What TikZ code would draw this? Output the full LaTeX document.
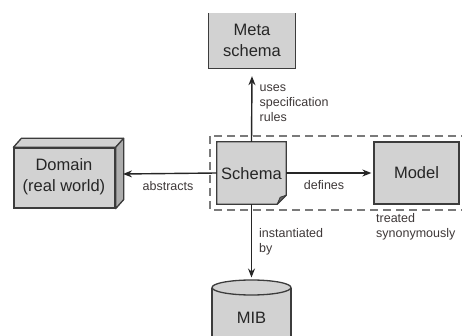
\documentclass[tikz,border=0pt]{standalone}
\usepackage{fontspec}
\setmainfont{Liberation Sans}
\usetikzlibrary{arrows.meta}
\definecolor{boxfill}{HTML}{D2D2D2}
\definecolor{sidefill}{HTML}{ADADAD}
\definecolor{edge}{HTML}{3C3C3C}
\definecolor{labeltext}{HTML}{3E3838}
\definecolor{dashgray}{HTML}{7A7A7A}
\tikzset{
  boxtext/.style={font=\fontsize{16.5}{20.5}\selectfont, text=black!85, align=center, inner sep=0pt},
  plainbox/.style={boxtext, fill=boxfill, draw=edge, line width=1.3pt},
  lbl/.style={font=\fontsize{12.5}{15}\selectfont, text=labeltext, align=left, inner sep=0pt},
  arr/.style={draw=black!85, line width=1.4pt, -{Stealth[length=9pt,width=7pt]}},
  grouping/.style={draw=dashgray, line width=1.3pt, dash pattern=on 8pt off 5pt},
}
\begin{document}
\begin{tikzpicture}[x=1pt, y=-1pt]
\useasboundingbox (0,0) rectangle (462,336);
\clip (0,0) rectangle (462,336);

% group of schema and model
\draw[grouping] (210,136) rectangle (480,210);

% meta schema: open at the top
\node[boxtext, fill=boxfill, minimum width=86pt, minimum height=55pt] (meta) at (252,40.5) {Meta\\schema};
\draw[edge, line width=1.3pt] (meta.north west) -- (meta.south west) -- (meta.south east) -- (meta.north east);

% schema: a page with a folded corner
\node[boxtext, minimum width=69pt, minimum height=62pt] (schema) at (251.5,173) {};
\filldraw[fill=boxfill, draw=edge, line width=1.3pt]
  (schema.north west) -- (schema.north east) -- ([yshift=9pt]schema.south east)
  -- ([xshift=-9pt]schema.south east) -- (schema.south west) -- cycle;
\filldraw[fill=edge!80, draw=edge, line width=0.8pt, line join=round]
  ([yshift=9pt]schema.south east) -- ([xshift=-9pt]schema.south east)
  -- ([xshift=-6pt,yshift=7pt]schema.south east) -- cycle;
\node[boxtext] (schematext) at (251.5,174) {Schema};

% model
\node[plainbox, minimum width=85pt, minimum height=62pt] (model) at (416.5,173) {Model};

% domain: a block with depth
\node[plainbox, minimum width=101pt, minimum height=60pt] (domain) at (64.5,178) {};
\filldraw[fill=boxfill, draw=edge, line width=1.3pt, line join=round]
  (domain.north west) -- ++(8,-9) -- ([shift={(8pt,9pt)}]domain.north east) -- (domain.north east) -- cycle;
\filldraw[fill=sidefill, draw=edge, line width=1.3pt, line join=round]
  (domain.north east) -- ++(8,-9) -- ([shift={(8pt,9pt)}]domain.south east) -- (domain.south east) -- cycle;
\node[boxtext] (domaintext) at (64,176.5) {Domain\\(real world)};
\coordinate (domainside) at (123,174);

% MIB: a cylinder running out at the bottom
\filldraw[fill=boxfill, draw=edge, line width=1.3pt]
  (212,287.5) -- (212,345) -- (291,345) -- (291,287.5);
\filldraw[fill=boxfill, draw=edge, line width=1.3pt] (251.5,287.5) ellipse [x radius=39.5, y radius=7.5];
\node[boxtext] (mib) at (251.5,318) {MIB};
\coordinate (mibtop) at (251.5,277.5);

% connectors
\draw[arr] (schema.north) -- ([yshift=-8pt]meta.south);
\draw[arr] (schema.west) -- (domainside);
\draw[arr] (schema.east) -- ([xshift=-2pt]model.west);
\draw[arr] (schema.south) -- (mibtop);

% labels
\node[lbl, anchor=west] (uses) at (259.5,103) {uses\\specification\\rules};
\node[lbl] (abstracts) at (168,186) {abstracts};
\node[lbl] (defines) at (324,185) {defines};
\node[lbl, anchor=west] (inst) at (259,241.5) {instantiated\\by};
\node[lbl, anchor=west] (treated) at (376,226.5) {treated\\synonymously};
\end{tikzpicture}
\end{document}
